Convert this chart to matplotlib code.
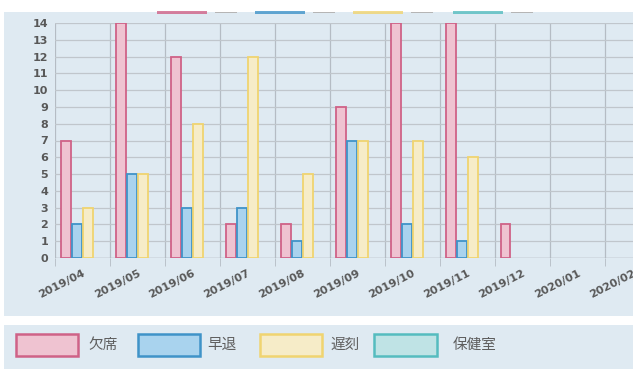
import matplotlib
matplotlib.use("Agg")
import matplotlib.pyplot as plt
from matplotlib.patches import Rectangle
import numpy as np

plt.rcParams['font.family'] = ['Noto Sans CJK JP', 'DejaVu Sans']

# data
months = ['2019/04', '2019/05', '2019/06', '2019/07', '2019/08', '2019/09',
          '2019/10', '2019/11', '2019/12', '2020/01', '2020/02']
absent = [7, 14, 12, 2, 2, 9, 14, 14, 2, 0, 0]      # 欠席
early_leave = [2, 5, 3, 3, 1, 7, 2, 1, 0, 0, 0]     # 早退
late = [3, 5, 8, 12, 5, 7, 7, 6, 0, 0, 0]           # 遅刻
nurse = [0, 0, 0, 0, 0, 0, 0, 0, 0, 0, 0]           # 保健室
series_names = ['欠席', '早退', '遅刻', '保健室']

fills = ['#efc3d1', '#a9d3ee', '#f6ecc8', '#bfe3e5']
edges = ['#cf6287', '#3f93c8', '#f0d470', '#55bcbf']

W, H = 633, 369
panel = '#dfeaf2'
fig = plt.figure(figsize=(W / 100, H / 100), dpi=100)
fig.patch.set_facecolor('white')


def px_rect(x0, y0, x1, y1, **kw):
    # rectangle given in image pixels (origin top-left)
    r = Rectangle((x0 / W, 1 - y1 / H), (x1 - x0) / W, (y1 - y0) / H,
                  transform=fig.transFigure, **kw)
    fig.add_artist(r)
    return r


px_rect(4, 12, W, 316, facecolor=panel, edgecolor='none', zorder=0)
px_rect(4, 325, W, H, facecolor=panel, edgecolor='none', zorder=0)

# cut-off legend at the top of the chart panel
for i, x0 in enumerate([157, 255, 353, 453]):
    px_rect(x0, 11.5, x0 + 50, 13.5, facecolor=edges[i], edgecolor='none', alpha=0.8, zorder=1)
    px_rect(x0 + 58, 11.5, x0 + 80, 13, facecolor='#b5b5b5', edgecolor='none', zorder=1)

ax = fig.add_axes([55 / W, 1 - 258 / H, (W - 55) / W, (258 - 23) / H])
ax.set_facecolor(panel)

x = np.arange(len(months))
step = 0.205
bw = 0.18
for i, vals in enumerate([absent, early_leave, late, nurse]):
    lw = [1.3 if v > 0 else 0 for v in vals]
    ax.bar(x + (i - 1.5) * step, vals, width=bw, color=fills[i],
           edgecolor=edges[i], linewidth=lw, zorder=3)

ax.set_xlim(-0.5, 10.01)
ax.set_ylim(0, 14)
ax.set_yticks(range(0, 15))
ax.set_xticks(x)
ax.set_xticklabels(months, rotation=27, ha='right', rotation_mode='anchor',
                   fontsize=8, color='#585858', fontweight='bold', family='DejaVu Sans')
for lab in ax.get_yticklabels():
    lab.set_fontsize(8)
    lab.set_color('#585858')
    lab.set_fontweight('bold')
    lab.set_family('DejaVu Sans')

ax.set_xticks(np.arange(-0.5, 10.5, 1), minor=True)
ax.tick_params(axis='x', which='major', length=0, pad=7)
ax.tick_params(axis='x', which='minor', length=6, color='#b5bcc4')
ax.tick_params(axis='y', length=0, pad=5)
ax.grid(axis='y', color='#c0c6cc', linewidth=0.9, zorder=0)
ax.grid(axis='x', which='minor', color='#b5bcc4', linewidth=0.9, zorder=0)
ax.set_axisbelow(True)
for s in ax.spines.values():
    s.set_visible(False)
ax.axhline(0, color='#b0b7be', linewidth=1.0, zorder=2)

# legend panel at the bottom
boxes = [(16, 78), (138, 200), (260, 322), (374, 437)]
text_x = [88, 207, 330, 453]
for i, (bx0, bx1) in enumerate(boxes):
    px_rect(bx0, 334, bx1, 356, facecolor=fills[i], edgecolor=edges[i], linewidth=1.8, zorder=2)
    fig.text(text_x[i] / W, 1 - 345 / H, series_names[i], fontsize=10.5,
             color='#5e5e5e', va='center', ha='left')

fig.savefig('out.png', dpi=100, facecolor=fig.get_facecolor())
